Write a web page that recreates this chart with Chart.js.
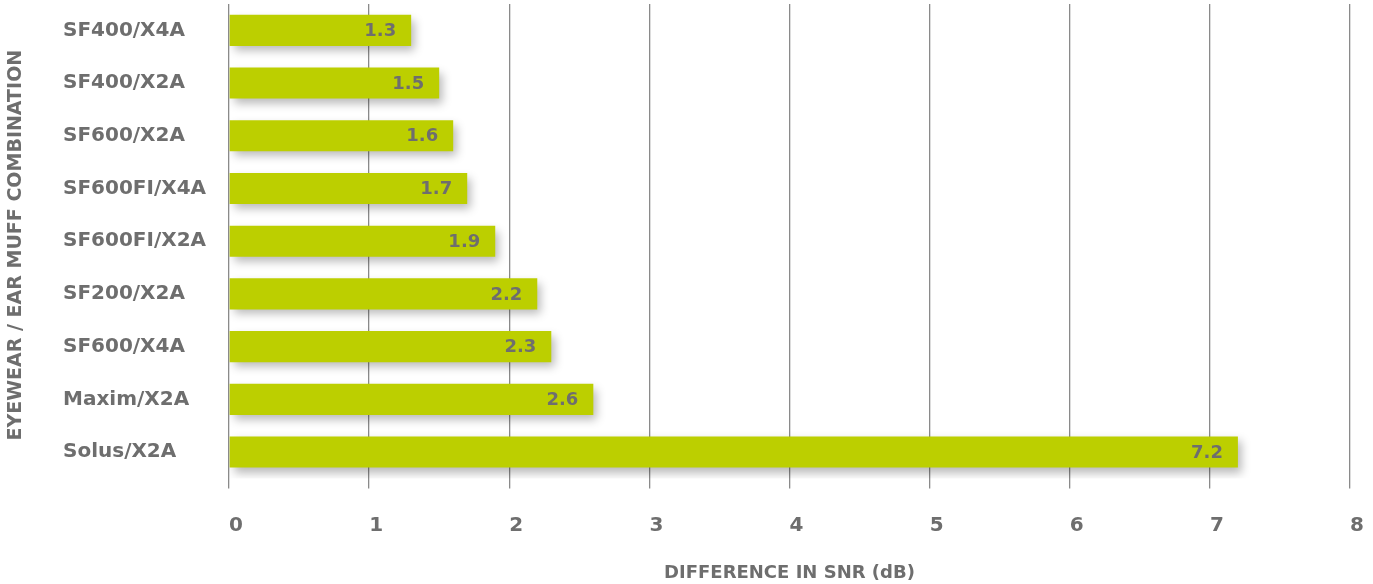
<!DOCTYPE html>
<html>
<head>
<meta charset="utf-8">
<script src="https://cdn.jsdelivr.net/npm/chart.js@4"></script>
<style>
  html, body { margin:0; padding:0; background:#fff; }
  #wrap { width:1373px; height:584px; position:relative; }
</style>
</head>
<body>
<div id="wrap"><canvas id="snrChart"></canvas></div>
<script>
// eyewear / ear muff combos, top to bottom
const combos = ['SF400/X4A','SF400/X2A','SF600/X2A','SF600FI/X4A','SF600FI/X2A','SF200/X2A','SF600/X4A','Maxim/X2A','Solus/X2A'];
const snrDiff = [1.3, 1.5, 1.6, 1.7, 1.9, 2.2, 2.3, 2.6, 7.2];
const xTicks = [0, 1, 2, 3, 4, 5, 6, 7, 8];

const GREEN = '#bccf00';
const GREY  = '#6e6e6e';
const FONT  = '"DejaVu Sans", sans-serif';

// soft drop shadow under the bars
const barShadow = {
  id: 'barShadow',
  beforeDatasetsDraw(chart) {
    const c = chart.ctx;
    c.save();
    c.shadowColor = 'rgba(0,0,0,0.28)';
    c.shadowBlur = 9;
    c.shadowOffsetX = 4;
    c.shadowOffsetY = 5;
  },
  afterDatasetsDraw(chart) {
    chart.ctx.restore();
  }
};

// value labels inside bar ends
const valueLabels = {
  id: 'valueLabels',
  afterDatasetsDraw(chart) {
    const c = chart.ctx;
    const meta = chart.getDatasetMeta(0);
    c.save();
    c.font = 'bold 18px ' + FONT;
    c.fillStyle = GREY;
    c.textAlign = 'right';
    c.textBaseline = 'middle';
    meta.data.forEach((bar, i) => {
      c.fillText(snrDiff[i].toFixed(1), bar.x - 15, bar.y + 1);
    });
    c.restore();
  }
};

// rotated y title, drawn by hand so labels can stay left aligned
const yTitle = {
  id: 'yTitle',
  afterDraw(chart) {
    const c = chart.ctx;
    const a = chart.chartArea;
    c.save();
    c.translate(16, (a.top + a.bottom) / 2 + 4);
    c.rotate(-Math.PI / 2);
    c.font = 'bold 19px ' + FONT;
    c.fillStyle = GREY;
    c.textAlign = 'center';
    c.textBaseline = 'middle';
    c.fillText('EYEWEAR / EAR MUFF COMBINATION', 0, 0);
    c.restore();
  }
};

new Chart(document.getElementById('snrChart'), {
  type: 'bar',
  data: {
    labels: combos,
    datasets: [{
      data: snrDiff,
      backgroundColor: GREEN,
      borderWidth: 0,
      barPercentage: 0.59,
      categoryPercentage: 1
    }]
  },
  options: {
    indexAxis: 'y',
    responsive: true,
    maintainAspectRatio: false,
    animation: false,
    layout: { padding: { left: 63, right: 23, top: 4, bottom: 0 } },
    plugins: { legend: { display: false }, tooltip: { enabled: false } },
    scales: {
      x: {
        min: 0, max: 8,
        afterBuildTicks: s => { s.ticks = xTicks.map(v => ({ value: v })); },
        afterFit: s => { s.paddingLeft = 0; s.paddingRight = 0; },
        grid: { color: '#8a8a8a', lineWidth: 1.3, tickLength: 10, drawTicks: true },
        border: { display: false },
        ticks: { align: 'start', color: GREY, font: { family: FONT, size: 20, weight: 'bold' }, padding: 25 },
        title: {
          display: true, text: 'DIFFERENCE IN SNR (dB)', color: GREY,
          font: { family: FONT, size: 18, weight: 'bold' }, padding: 0
        }
      },
      y: {
        afterFit: s => { s.width = 166; s.paddingTop = 0; s.paddingBottom = 0; },
        grid: { display: false },
        border: { display: false },
        ticks: { crossAlign: 'far', color: GREY, font: { family: FONT, size: 20, weight: 'bold' } }
      }
    }
  },
  plugins: [barShadow, valueLabels, yTitle]
});
</script>
</body>
</html>
